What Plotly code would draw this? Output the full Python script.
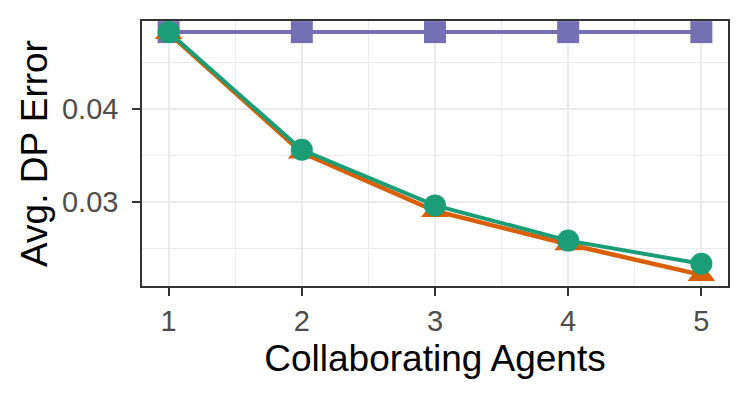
import plotly.graph_objects as go

agents = [1, 2, 3, 4, 5]
err_square = [0.0483, 0.0483, 0.0483, 0.0483, 0.0483]
err_triangle = [0.0482, 0.0353, 0.0290, 0.0254, 0.0221]
err_circle = [0.0483, 0.0356, 0.0296, 0.0258, 0.0233]

PURPLE = "#7570B3"
ORANGE = "#D95F02"
GREEN = "#1B9E77"
GRID = "#EBEBEB"
FONT = "Liberation Sans, Arial, sans-serif"

fig = go.Figure()
fig.add_trace(go.Scatter(x=agents, y=err_square, mode="lines+markers",
                         line=dict(color=PURPLE, width=4),
                         marker=dict(symbol="square", size=22, color=PURPLE)))
fig.add_trace(go.Scatter(x=agents, y=err_triangle, mode="lines+markers",
                         line=dict(color=ORANGE, width=4.5),
                         marker=dict(symbol="triangle-up", size=24, color=ORANGE)))
fig.add_trace(go.Scatter(x=agents, y=err_circle, mode="lines+markers",
                         line=dict(color=GREEN, width=4),
                         marker=dict(symbol="circle", size=22, color=GREEN)))

axis_common = dict(
    showline=True, linecolor="#333333", linewidth=1.5, mirror=True,
    ticks="outside", ticklen=8, tickwidth=2, tickcolor="#333333",
    showgrid=True, gridcolor=GRID, gridwidth=2, zeroline=False,
    tickfont=dict(size=29, color="#4D4D4D", family=FONT),
)

# page body has an 8px margin, so the figure is a bit smaller and margins are shifted
fig.update_layout(
    width=739, height=390,
    plot_bgcolor="white", paper_bgcolor="white",
    showlegend=False,
    margin=dict(l=134, r=19, t=11, b=112),
    xaxis=dict(
        range=[0.8, 5.2], tickmode="array", tickvals=agents,
        minor=dict(tickvals=[1.5, 2.5, 3.5, 4.5], showgrid=True, gridcolor=GRID, gridwidth=1, ticklen=0),
        title=dict(text="Collaborating Agents", font=dict(size=37, color="black", family=FONT), standoff=10),
        **axis_common,
    ),
    yaxis=dict(
        range=[0.0209, 0.0495], tickmode="array", tickvals=[0.03, 0.04], tickformat=".2f",
        minor=dict(tickvals=[0.025, 0.035, 0.045], showgrid=True, gridcolor=GRID, gridwidth=1, ticklen=0),
        ticklabelstandoff=8,
        title=dict(text="Avg. DP Error", font=dict(size=37, color="black", family=FONT), standoff=3),
        **axis_common,
    ),
)

fig.write_html("out.html")
